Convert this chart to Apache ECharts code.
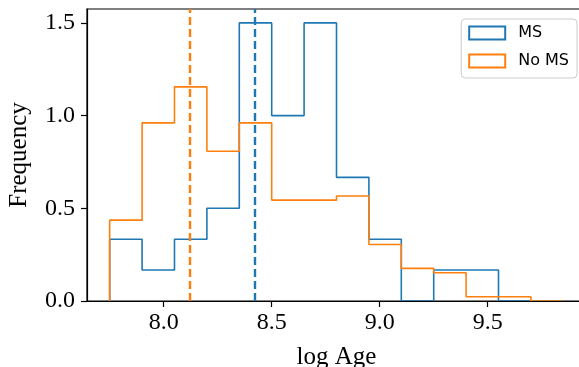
<!DOCTYPE html>
<html>
<head>
<meta charset="utf-8">
<script src="https://cdn.jsdelivr.net/npm/echarts@6/dist/echarts.min.js"></script>
<style>
html,body{margin:0;padding:0;background:#fff;}
#chart{width:579px;height:367px;}
</style>
</head>
<body>
<div id="chart"></div>
<script>
// Bin edges (log Age)
const binEdges = [7.75, 7.90, 8.05, 8.20, 8.35, 8.50, 8.65, 8.80, 8.95, 9.10, 9.25, 9.40, 9.55, 9.70, 9.85];
// Density per bin
const msValues   = [0.333, 0.167, 0.333, 0.5, 1.5, 1.0, 1.5, 0.667, 0.333, 0.0, 0.167, 0.167, 0.0, 0.0];
const noMsValues = [0.436, 0.961, 1.155, 0.808, 0.961, 0.544, 0.544, 0.566, 0.305, 0.176, 0.152, 0.023, 0.023, 0.0];
// Medians (vertical dashed lines)
const msMedian = 8.422;
const noMsMedian = 8.124;
const seriesNames = ['MS', 'No MS'];
const xTicks = [8.0, 8.5, 9.0, 9.5];
const yTicks = [0.0, 0.5, 1.0, 1.5];

const BLUE = '#1f77b4', ORANGE = '#ff7f0e';

function stepData(edges, vals) {
  const pts = [[edges[0], 0]];
  for (let i = 0; i < vals.length; i++) pts.push([edges[i], vals[i]]);
  pts.push([edges[vals.length], 0]);
  return pts;
}

const serif = 'Liberation Serif';
const chart = echarts.init(document.getElementById('chart'), null, {renderer: 'canvas'});

function histSeries(name, vals, color, median, z) {
  return {
    name: name,
    type: 'line',
    step: 'end',
    data: stepData(binEdges, vals),
    showSymbol: false,
    symbol: 'none',
    z: z,
    lineStyle: {color: color, width: 1.6},
    itemStyle: {color: color},
    animation: false,
    markLine: {
      silent: true,
      symbol: ['none', 'none'],
      label: {show: false},
      lineStyle: {color: color, width: 2.4, type: [8, 4]},
      data: [{xAxis: median}],
      z: z + 5
    }
  };
}

chart.setOption({
  animation: false,
  backgroundColor: '#fff',
  grid: {
    left: 87, right: -7, top: 9, bottom: 66,
    containLabel: false,
    outerBoundsMode: 'none',
    show: true, borderColor: '#000', borderWidth: 1.2, backgroundColor: 'transparent'
  },
  legend: {
    right: 2, top: 19,
    orient: 'vertical',
    itemWidth: 36, itemHeight: 13, itemGap: 12,
    padding: [6, 8, 9, 7],
    backgroundColor: 'rgba(255,255,255,0.8)',
    borderColor: '#cccccc', borderWidth: 1, borderRadius: 4,
    icon: 'rect',
    textStyle: {fontFamily: 'DejaVu Sans', fontSize: 16, color: '#000', padding: [0, 0, 0, 8]},
    data: [
      {name: seriesNames[0], itemStyle: {color: 'rgba(0,0,0,0)', borderColor: BLUE, borderWidth: 2}},
      {name: seriesNames[1], itemStyle: {color: 'rgba(0,0,0,0)', borderColor: ORANGE, borderWidth: 2}}
    ]
  },
  xAxis: {
    type: 'value',
    min: 7.645, max: 9.955,
    z: 10,
    name: 'log Age',
    nameLocation: 'middle',
    nameGap: 44,
    nameTextStyle: {fontFamily: serif, fontSize: 25, color: '#000'},
    axisLine: {show: true, onZero: false, lineStyle: {color: '#000', width: 1.2}},
    axisTick: {show: true, inside: false, length: 6, lineStyle: {color: '#000', width: 1.2}, customValues: xTicks},
    axisLabel: {customValues: xTicks, margin: 10, fontFamily: serif, fontSize: 24, color: '#000',
      formatter: v => Number(v).toFixed(1)},
    splitLine: {show: false}
  },
  yAxis: {
    type: 'value',
    min: 0, max: 1.575,
    z: 10,
    name: 'Frequency',
    nameLocation: 'middle',
    nameGap: 55,
    nameTextStyle: {fontFamily: serif, fontSize: 25, color: '#000'},
    axisLine: {show: true, onZero: false, lineStyle: {color: '#000', width: 1.2}},
    axisTick: {show: true, inside: false, length: 6, lineStyle: {color: '#000', width: 1.2}, customValues: yTicks},
    axisLabel: {customValues: yTicks, margin: 12, fontFamily: serif, fontSize: 24, color: '#000',
      formatter: v => Number(v).toFixed(1)},
    splitLine: {show: false}
  },
  series: [
    histSeries(seriesNames[0], msValues, BLUE, msMedian, 2),
    histSeries(seriesNames[1], noMsValues, ORANGE, noMsMedian, 3)
  ]
});
</script>
</body>
</html>
